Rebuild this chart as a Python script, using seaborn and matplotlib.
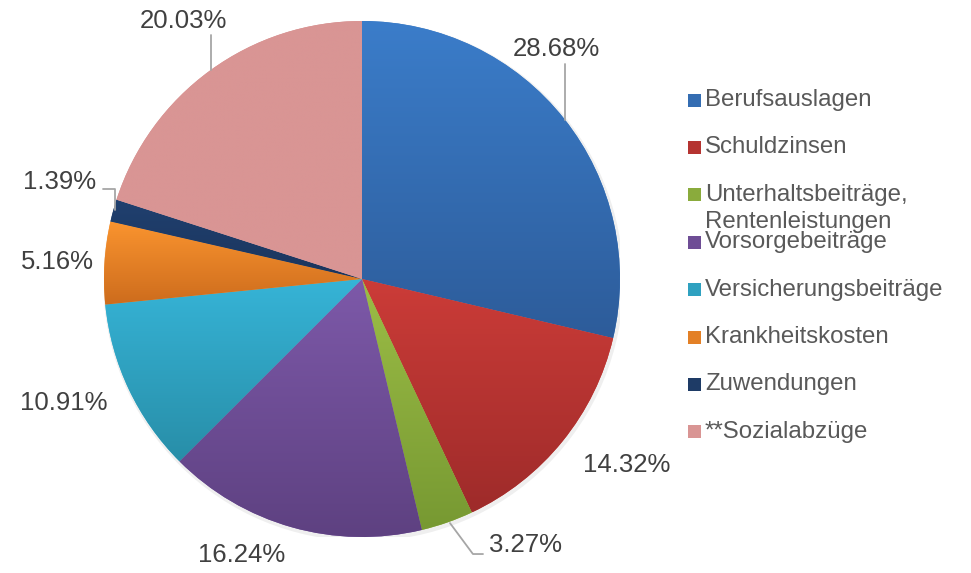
import numpy as np
import matplotlib.pyplot as plt
import matplotlib.colors as mcolors
from matplotlib.patches import Rectangle, Circle
import seaborn as sns

# Daten
categories = ['Berufsauslagen', 'Schuldzinsen', 'Unterhaltsbeiträge,\nRentenleistungen',
              'Vorsorgebeiträge', 'Versicherungsbeiträge', 'Krankheitskosten',
              'Zuwendungen', '**Sozialabzüge']
shares = [28.68, 14.32, 3.27, 16.24, 10.91, 5.16, 1.39, 20.03]
colors_top = ['#3b7dca', '#cc3c38', '#9cbd46', '#7d59a9', '#36b4d7', '#fa942f', '#20406f', '#d99594']
colors_bottom = ['#2d5c9a', '#9e2b2a', '#779932', '#5e4181', '#288ea8', '#cd6c1d', '#1b355d', '#d99594']

# Beschriftungspositionen (Kreis-Einheiten)
label_pos = [(0.752, 0.891), (1.027, -0.721), (0.632, -1.031), (-0.465, -1.070),
             (-1.155, -0.481), (-1.182, 0.066), (-1.171, 0.376), (-0.694, 1.000)]
leaders = {0: [(0.787, 0.833), (0.787, 0.616)],
           2: [(0.469, -1.066), (0.430, -1.066), (0.341, -0.946)],
           6: [(-1.004, 0.349), (-0.957, 0.349), (-0.957, 0.267)],
           7: [(-0.585, 0.946), (-0.585, 0.810)]}

sns.set_theme(style='white')
plt.rcParams['font.family'] = ['Liberation Sans', 'DejaVu Sans']

W, H = 971, 573
fig = plt.figure(figsize=(W / 100, H / 100), dpi=100)
cx, cy, R = 362, 279, 258
ax = fig.add_axes([(cx - R) / W, (H - cy - R) / H, 2 * R / W, 2 * R / H])

# leichter Schatten
ax.add_patch(Circle((0.005, -0.008), 1.008, color='#dcdcdc', alpha=0.45, zorder=0, lw=0))

wedges, _ = ax.pie(shares, startangle=90, counterclock=False, radius=1,
                   colors=colors_top, wedgeprops=dict(linewidth=0))

# vertikaler Verlauf je Segment
for w, ct, cb in zip(wedges, colors_top, colors_bottom):
    ext = w.get_path().get_extents()
    c0 = np.array(mcolors.to_rgb(cb))
    c1 = np.array(mcolors.to_rgb(ct))
    t = np.linspace(0, 1, 128)[:, None]
    grad = (c0 + (c1 - c0) * t)[:, None, :]
    im = ax.imshow(grad, extent=[ext.x0, ext.x1, ext.y0, ext.y1], origin='lower',
                   aspect='auto', zorder=2, interpolation='bilinear')
    im.set_clip_path(w)

ax.set_xlim(-1, 1)
ax.set_ylim(-1, 1)
ax.axis('off')

for i, (v, (lx, ly)) in enumerate(zip(shares, label_pos)):
    ax.text(lx, ly, f'{v:.2f}%', ha='center', va='center', fontsize=18.5,
            color='#404040', clip_on=False)
for i, pts in leaders.items():
    xs, ys = zip(*pts)
    ax.plot(xs, ys, color='#a6a6a6', lw=1.3, clip_on=False, zorder=3)

# Legende
y0, step = 100, 47.4
for k, (name, ct, cb) in enumerate(zip(categories, colors_top, colors_bottom)):
    yc = y0 + k * step
    mid = (np.array(mcolors.to_rgb(ct)) + np.array(mcolors.to_rgb(cb))) / 2
    fig.add_artist(Rectangle((688 / W, 1 - (yc + 6.5) / H), 13 / W, 13 / H,
                             transform=fig.transFigure, color=mid, lw=0))
    for j, line in enumerate(name.split('\n')):
        fig.text(705 / W, 1 - (yc + j * 27) / H, line, ha='left', va='center',
                 fontsize=17.3, color='#595959')

fig.savefig('out.png', dpi=100)
